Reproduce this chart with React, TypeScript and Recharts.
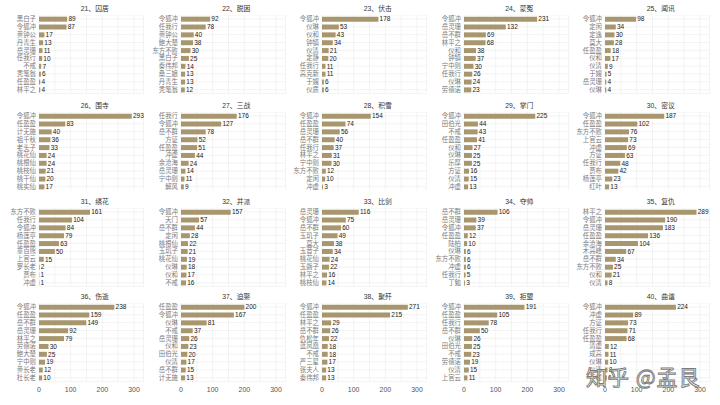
import React from "react";
import { BarChart, Bar, XAxis, YAxis, CartesianGrid, LabelList } from "recharts";

const chapterTitles = [
  "21、囚居", "22、脱困", "23、伏击", "24、蒙冤", "25、闻讯",
  "26、围寺", "27、三战", "28、积雪", "29、掌门", "30、密议",
  "31、绣花", "32、并派", "33、比剑", "34、夺帅", "35、复仇",
  "36、伤逝", "37、迫娶", "38、聚歼", "39、拒盟", "40、曲谐",
];

const names21 = ["黑白子", "令狐冲", "黄钟公", "丹青生", "岳灵珊", "任我行", "不戒", "秃笔翁", "任盈盈", "林平之"];
const values21 = [89, 87, 17, 13, 11, 10, 7, 6, 4, 4];
const names22 = ["令狐冲", "任我行", "黄钟公", "鲍大楚", "东方不败", "黑白子", "秦伟邦", "桑三娘", "丹青生", "秃笔翁"];
const values22 = [92, 78, 40, 38, 30, 25, 14, 13, 13, 12];
const names23 = ["令狐冲", "仪琳", "仪和", "钟镇", "仪清", "定静", "任我行", "高克新", "于嫂", "仪质"];
const values23 = [178, 53, 43, 34, 21, 20, 11, 11, 6, 6];
const names24 = ["令狐冲", "岳灵珊", "岳不群", "林平之", "仪和", "钟镇", "宁中则", "任我行", "仪琳", "劳德诺"];
const values24 = [231, 132, 69, 68, 38, 37, 30, 26, 24, 23];
const names25 = ["令狐冲", "定闲", "定逸", "莫大", "任盈盈", "仪和", "仪清", "于嫂", "岳灵珊", "仪琳"];
const values25 = [98, 34, 30, 28, 18, 17, 9, 5, 4, 4];
const names26 = ["令狐冲", "任盈盈", "计无施", "祖千秋", "老头子", "桃花仙", "桃根仙", "桃枝仙", "桃干仙", "桃实仙"];
const values26 = [293, 83, 40, 36, 33, 24, 24, 21, 20, 17];
const names27 = ["任我行", "令狐冲", "岳不群", "方证", "任盈盈", "冲虚", "余沧海", "岳灵珊", "宁中则", "解风"];
const values27 = [176, 127, 78, 52, 51, 44, 24, 14, 11, 9];
const names28 = ["令狐冲", "任盈盈", "岳灵珊", "岳不群", "任我行", "林平之", "宁中则", "东方不败", "定闲", "冲虚"];
const values28 = [154, 74, 56, 40, 37, 31, 30, 12, 10, 3];
const names29 = ["令狐冲", "田伯光", "不戒", "任盈盈", "仪和", "仪琳", "乐厚", "方证", "仪清", "冲虚"];
const values29 = [225, 44, 43, 41, 27, 25, 25, 16, 15, 13];
const names30 = ["令狐冲", "任盈盈", "东方不败", "上官云", "冲虚", "方证", "任我行", "贾布", "杨莲亭", "红叶"];
const values30 = [187, 102, 76, 73, 69, 63, 48, 42, 23, 13];
const names31 = ["东方不败", "任我行", "令狐冲", "杨莲亭", "任盈盈", "童百熊", "上官云", "罗长老", "贾布", "冲虚"];
const values31 = [161, 104, 84, 79, 63, 50, 15, 2, 1, 1];
const names32 = ["令狐冲", "天门", "岳不群", "定闲", "桃根仙", "玉玑子", "桃花仙", "仪琳", "仪和", "不戒"];
const values32 = [157, 57, 44, 28, 22, 21, 19, 18, 17, 16];
const names33 = ["岳灵珊", "令狐冲", "岳不群", "玉玑子", "莫大", "玉音子", "桃花仙", "玉磬子", "林平之", "桃枝仙"];
const values33 = [116, 75, 60, 49, 38, 34, 24, 22, 16, 14];
const names34 = ["岳不群", "岳灵珊", "令狐冲", "任盈盈", "陆柏", "仪琳", "东方不败", "冲虚", "任我行", "丁勉"];
const values34 = [106, 39, 37, 12, 10, 6, 6, 6, 5, 3];
const names35 = ["林平之", "令狐冲", "岳灵珊", "任盈盈", "余沧海", "木高峰", "岳不群", "东方不败", "仪和", "仪清"];
const values35 = [289, 190, 183, 136, 104, 67, 34, 25, 21, 8];
const names36 = ["令狐冲", "任盈盈", "岳不群", "岳灵珊", "林平之", "劳德诺", "鲍大楚", "宁中则", "黄长老", "杜长老"];
const values36 = [238, 159, 149, 92, 79, 30, 25, 19, 12, 10];
const names37 = ["任盈盈", "令狐冲", "仪琳", "不戒", "岳灵珊", "仪和", "田伯光", "仪清", "岳不群", "计无施"];
const values37 = [200, 167, 81, 37, 26, 23, 20, 17, 15, 13];
const names38 = ["令狐冲", "任盈盈", "林平之", "岳不群", "仇松年", "蓝凤凰", "不戒", "严三星", "张夫人", "秦伟邦"];
const values38 = [271, 215, 29, 26, 22, 18, 18, 17, 13, 13];
const names39 = ["令狐冲", "任盈盈", "任我行", "岳不群", "仪琳", "田伯光", "不戒", "劳德诺", "仪清", "上官云"];
const values39 = [191, 105, 78, 50, 26, 25, 23, 19, 15, 11];
const names40 = ["令狐冲", "冲虚", "方证", "任我行", "任盈盈", "清虚", "成高", "仪琳", "仪清", "不戒"];
const values40 = [224, 89, 73, 71, 68, 12, 11, 10, 8, 6];

const xTicks = [0, 50, 100, 150, 200, 250, 300];
const xLabelTicks = [0, 100, 200, 300];

const allNames = [names21, names22, names23, names24, names25, names26, names27, names28, names29, names30,
  names31, names32, names33, names34, names35, names36, names37, names38, names39, names40];
const allValues = [values21, values22, values23, values24, values25, values26, values27, values28, values29, values30,
  values31, values32, values33, values34, values35, values36, values37, values38, values39, values40];

const BAR_COLOR = "#a8966f";
const GRID_COLOR = "#ebebeb";
const X_MAX = 330;
const PX_PER_UNIT = 0.3167;
const PLOT_W = X_MAX * PX_PER_UNIT;
const YAXIS_W = 40;
const PLOT_H = 78.6;
const COL0 = 39.3;
const COL_STEP = 141.5;
const ROW_TITLES = [9.3, 105.7, 202, 297.3];

function Panel({ idx }: { idx: number }) {
  const col = idx % 5;
  const row = Math.floor(idx / 5);
  const zero = COL0 + COL_STEP * col;
  const titleY = ROW_TITLES[row];
  const bottom = row === 3;
  const data = allNames[idx].map((n, i) => ({ name: n, value: allValues[idx][i] }));
  const h = PLOT_H + (bottom ? 16 : 0);
  return (
    <>
      <div
        style={{
          position: "absolute",
          left: zero + 55.5 - 40,
          width: 80,
          top: titleY - 5,
          height: 10,
          lineHeight: "10px",
          textAlign: "center",
          fontSize: 6.8,
          color: "#333",
          fontFamily: "'Liberation Sans', 'Noto Sans CJK SC', sans-serif",
          whiteSpace: "nowrap",
        }}
      >
        {chapterTitles[idx]}
      </div>
      <div style={{ position: "absolute", left: zero - YAXIS_W, top: titleY + 6 }}>
        <BarChart
          width={YAXIS_W + PLOT_W + 14}
          height={h}
          data={data}
          layout="vertical"
          margin={{ top: 0, right: 14, bottom: 0, left: 0 }}
          barCategoryGap="21%"
        >
          <CartesianGrid stroke={GRID_COLOR} strokeWidth={0.6} />
          <XAxis
            type="number"
            domain={[0, X_MAX]}
            ticks={xTicks}
            interval={0}
            hide={!bottom}
            height={16}
            axisLine={false}
            tickLine={false}
            tickSize={0}
            tickMargin={5}
            tickFormatter={(v: number) => (xLabelTicks.includes(v) ? String(v) : "")}
            tick={{ fontSize: 7, fill: "#555", fontFamily: "'Liberation Sans', sans-serif" }}
          />
          <YAxis
            type="category"
            dataKey="name"
            width={YAXIS_W}
            interval={0}
            axisLine={false}
            tickLine={false}
            tickSize={0}
            tickMargin={3}
            tick={{ fontSize: 6.4, fill: "#7a7a7a", fontFamily: "'Noto Sans CJK SC', sans-serif" }}
          />
          <Bar dataKey="value" fill={BAR_COLOR} isAnimationActive={false}>
            <LabelList
              dataKey="value"
              position="right"
              offset={1.2}
              style={{ fontSize: 6.5, fill: "#222", fontFamily: "'Liberation Sans', sans-serif" }}
            />
          </Bar>
        </BarChart>
      </div>
    </>
  );
}

export default function App() {
  return (
    <div
      style={{
        position: "absolute",
        left: 0,
        top: 0,
        width: 720,
        height: 405,
        background: "#fff",
        overflow: "hidden",
      }}
    >
      {chapterTitles.map((_, i) => (
        <Panel key={i} idx={i} />
      ))}
      <div
        style={{
          position: "absolute",
          left: 586,
          top: 363,
          fontSize: 21,
          lineHeight: "26px",
          color: "rgba(255,255,255,0.9)",
          WebkitTextStroke: "0.9px #7a7a7a",
          fontFamily: "'Noto Sans CJK SC', sans-serif",
          whiteSpace: "nowrap",
          letterSpacing: 1,
        }}
      >
        知乎 @孟艮
      </div>
    </div>
  );
}
